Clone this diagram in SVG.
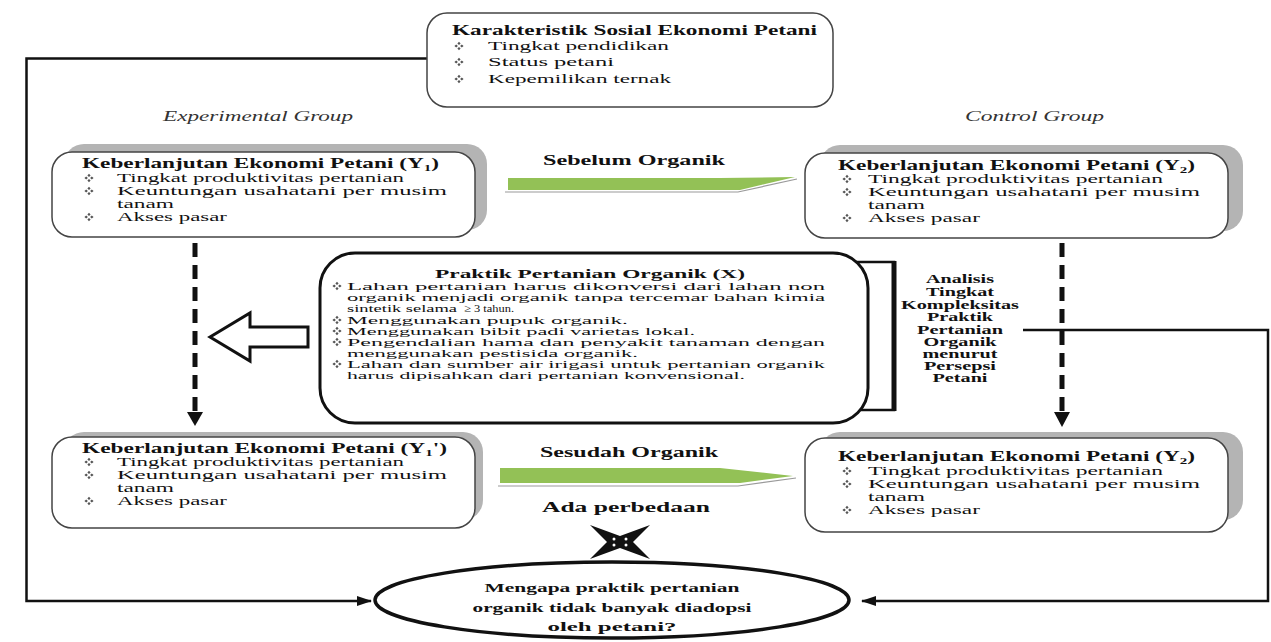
<svg xmlns="http://www.w3.org/2000/svg" width="1271" height="642" viewBox="0 0 1271 642">
<style>
.t{font-family:"Liberation Serif","Times New Roman",serif;fill:#111;font-size:12.5px}
.h{font-size:14px;font-weight:bold}
.b{font-weight:bold}
.c{font-size:11px}
.r{font-size:12.5px}
.i{font-style:italic;fill:#333;font-size:14px}
.m{text-anchor:middle}
.box{fill:#fff;stroke:#444;stroke-width:1.5}
.sh{fill:#b4b4b4}
.ln{fill:none;stroke:#111;stroke-width:2.5}
.dash{fill:none;stroke:#111;stroke-width:5;stroke-dasharray:14 8}
.grn{fill:#93c156}
.gsh{fill:none;stroke:#9a9a9a;stroke-width:1.2}
</style>
<defs>
<marker id="ah" markerUnits="userSpaceOnUse" markerWidth="16" markerHeight="12" refX="14" refY="6" orient="auto">
<path d="M0,1 L15,6 L0,11 Z" fill="#111"/>
</marker>
<symbol id="bul" overflow="visible">
<path d="M0,-4.2 L1.6,-2.6 L0,-1 L-1.6,-2.6 Z M0,4.2 L1.6,2.6 L0,1 L-1.6,2.6 Z M-4.6,0 L-2.8,-1.5 L-1.1,0 L-2.8,1.5 Z M4.6,0 L2.8,-1.5 L1.1,0 L2.8,1.5 Z" fill="#555"/>
</symbol>
</defs>
<rect width="1271" height="642" fill="#fff"/>

<g id="connectors">
<path class="ln" d="M427,58.5 H26.5 V601 H371" marker-end="url(#ah)"/>
<path class="ln" d="M1023,330 H1268 V601 H862" marker-end="url(#ah)"/>
<line class="dash" x1="195" y1="243" x2="195" y2="412"/>
<polygon points="187,412 203,412 195,426" fill="#111"/>
<line class="dash" x1="1062" y1="243" x2="1062" y2="412"/>
<polygon points="1054,412 1070,412 1062,427" fill="#111"/>
<polygon points="210,337 250,313 250,327 308,327 308,347 250,347 250,361" fill="#fff" stroke="#111" stroke-width="3"/>
<path d="M853,262 H894 V410 H853" fill="none" stroke="#111" stroke-width="2.5"/>
<line x1="894" y1="261" x2="894" y2="411" stroke="#111" stroke-width="5"/>
</g>

<g id="karakteristik">
<rect class="box" x="427" y="13" width="406" height="94" rx="20"/>
<text class="t h" x="452" y="35" textLength="365" lengthAdjust="spacingAndGlyphs">Karakteristik Sosial Ekonomi Petani</text>
<use href="#bul" x="459" y="46"/><text class="t" x="488" y="50" font-size="13.5" textLength="181" lengthAdjust="spacingAndGlyphs">Tingkat pendidikan</text>
<use href="#bul" x="459" y="62"/><text class="t" x="488" y="66" font-size="13.5" textLength="126" lengthAdjust="spacingAndGlyphs">Status petani</text>
<use href="#bul" x="459" y="79"/><text class="t" x="488" y="83" font-size="13.5" textLength="183" lengthAdjust="spacingAndGlyphs">Kepemilikan ternak</text>
</g>

<g id="experimental-label"><text class="t i" x="163" y="121" textLength="190" lengthAdjust="spacingAndGlyphs">Experimental Group</text></g>
<g id="control-label"><text class="t i" x="965" y="121" textLength="139" lengthAdjust="spacingAndGlyphs">Control Group</text></g>

<g id="y1-sebelum">
<rect class="sh" x="64" y="144" width="423" height="86" rx="20"/>
<rect class="box" x="52" y="152" width="423" height="85" rx="20"/>
<text class="t h" x="82" y="168" textLength="357" lengthAdjust="spacingAndGlyphs">Keberlanjutan Ekonomi Petani (Y<tspan font-size="9" dy="3">1</tspan><tspan dy="-3">)</tspan></text>
<use href="#bul" x="89" y="178"/><text class="t" x="117" y="182" textLength="287" lengthAdjust="spacingAndGlyphs">Tingkat produktivitas pertanian</text>
<use href="#bul" x="89" y="191"/><text class="t" x="117" y="195" textLength="330" lengthAdjust="spacingAndGlyphs">Keuntungan usahatani per musim</text>
<text class="t" x="117" y="208" textLength="57" lengthAdjust="spacingAndGlyphs">tanam</text>
<use href="#bul" x="89" y="217"/><text class="t" x="117" y="221" textLength="110" lengthAdjust="spacingAndGlyphs">Akses pasar</text>
</g>

<g id="arrow-sebelum">
<polyline class="gsh" points="505,192 738,192 797,179"/>
<polygon class="grn" points="508,178 720,178 795,177 740,190 508,190"/>
<text class="t h" x="543" y="165" textLength="182" lengthAdjust="spacingAndGlyphs">Sebelum Organik</text>
</g>

<g id="y2-sebelum">
<rect class="sh" x="820" y="145" width="423" height="86" rx="20"/>
<rect class="box" x="805" y="153" width="423" height="85" rx="20"/>
<text class="t h" x="838" y="170" textLength="357" lengthAdjust="spacingAndGlyphs">Keberlanjutan Ekonomi Petani (Y<tspan font-size="9" dy="3">2</tspan><tspan dy="-3">)</tspan></text>
<use href="#bul" x="847" y="179"/><text class="t" x="868" y="183" textLength="295" lengthAdjust="spacingAndGlyphs">Tingkat produktivitas pertanian</text>
<use href="#bul" x="847" y="192"/><text class="t" x="868" y="196" textLength="332" lengthAdjust="spacingAndGlyphs">Keuntungan usahatani per musim</text>
<text class="t" x="868" y="209" textLength="57" lengthAdjust="spacingAndGlyphs">tanam</text>
<use href="#bul" x="847" y="218"/><text class="t" x="868" y="222" textLength="112" lengthAdjust="spacingAndGlyphs">Akses pasar</text>
</g>

<g id="praktik">
<rect x="320" y="253" width="548" height="170" rx="35" fill="#fff" stroke="#111" stroke-width="3"/>
<text class="t b r" x="435" y="278" textLength="310" lengthAdjust="spacingAndGlyphs">Praktik Pertanian Organik (X)</text>
<use href="#bul" x="337" y="286"/><text class="t c" x="347" y="290" textLength="478" lengthAdjust="spacingAndGlyphs">Lahan pertanian harus dikonversi dari lahan non</text>
<text class="t c" x="347" y="301" textLength="478" lengthAdjust="spacingAndGlyphs">organik menjadi organik tanpa tercemar bahan kimia</text>
<text class="t c" x="347" y="312" textLength="110" lengthAdjust="spacingAndGlyphs">sintetik selama</text>
<text class="t c" x="464" y="312" textLength="50" lengthAdjust="spacingAndGlyphs">≥ 3 tahun.</text>
<use href="#bul" x="337" y="320"/><text class="t c" x="347" y="324" textLength="281" lengthAdjust="spacingAndGlyphs">Menggunakan pupuk organik.</text>
<use href="#bul" x="337" y="331"/><text class="t c" x="347" y="335" textLength="348" lengthAdjust="spacingAndGlyphs">Menggunakan bibit padi varietas lokal.</text>
<use href="#bul" x="337" y="342"/><text class="t c" x="347" y="346" textLength="478" lengthAdjust="spacingAndGlyphs">Pengendalian hama dan penyakit tanaman dengan</text>
<text class="t c" x="347" y="357" textLength="291" lengthAdjust="spacingAndGlyphs">menggunakan pestisida organik.</text>
<use href="#bul" x="337" y="364"/><text class="t c" x="347" y="368" textLength="478" lengthAdjust="spacingAndGlyphs">Lahan dan sumber air irigasi untuk pertanian organik</text>
<text class="t c" x="347" y="379" textLength="398" lengthAdjust="spacingAndGlyphs">harus dipisahkan dari pertanian konvensional.</text>
</g>

<g id="analisis">
<text class="t b r m" x="960" y="283" textLength="68" lengthAdjust="spacingAndGlyphs">Analisis</text>
<text class="t b r m" x="960" y="296" textLength="68" lengthAdjust="spacingAndGlyphs">Tingkat</text>
<text class="t b r m" x="960" y="309" textLength="118" lengthAdjust="spacingAndGlyphs">Kompleksitas</text>
<text class="t b r m" x="960" y="321" textLength="66" lengthAdjust="spacingAndGlyphs">Praktik</text>
<text class="t b r m" x="960" y="334" textLength="86" lengthAdjust="spacingAndGlyphs">Pertanian</text>
<text class="t b r m" x="960" y="346" textLength="73" lengthAdjust="spacingAndGlyphs">Organik</text>
<text class="t b r m" x="960" y="358" textLength="75" lengthAdjust="spacingAndGlyphs">menurut</text>
<text class="t b r m" x="960" y="370" textLength="72" lengthAdjust="spacingAndGlyphs">Persepsi</text>
<text class="t b r m" x="960" y="382" textLength="55" lengthAdjust="spacingAndGlyphs">Petani</text>
</g>

<g id="y1-sesudah">
<rect class="sh" x="64" y="432" width="419" height="88" rx="20"/>
<rect class="box" x="52" y="437" width="423" height="91" rx="20"/>
<text class="t h" x="82" y="453" textLength="365" lengthAdjust="spacingAndGlyphs">Keberlanjutan Ekonomi Petani (Y<tspan font-size="9" dy="3">1</tspan><tspan dy="-3">')</tspan></text>
<use href="#bul" x="89" y="462"/><text class="t" x="117" y="466" textLength="287" lengthAdjust="spacingAndGlyphs">Tingkat produktivitas pertanian</text>
<use href="#bul" x="89" y="475"/><text class="t" x="117" y="479" textLength="330" lengthAdjust="spacingAndGlyphs">Keuntungan usahatani per musim</text>
<text class="t" x="117" y="492" textLength="57" lengthAdjust="spacingAndGlyphs">tanam</text>
<use href="#bul" x="89" y="501"/><text class="t" x="117" y="505" textLength="110" lengthAdjust="spacingAndGlyphs">Akses pasar</text>
</g>

<g id="arrow-sesudah">
<polyline class="gsh" points="498,486 738,486 796,478"/>
<polygon class="grn" points="500,468 720,468 793,476 740,483 500,483"/>
<text class="t h" x="540" y="457" textLength="178" lengthAdjust="spacingAndGlyphs">Sesudah Organik</text>
<text class="t h" x="542" y="512" textLength="168" lengthAdjust="spacingAndGlyphs">Ada perbedaan</text>
</g>

<g id="y2-sesudah">
<rect class="sh" x="820" y="432" width="423" height="88" rx="20"/>
<rect class="box" x="805" y="438" width="423" height="94" rx="20"/>
<text class="t h" x="838" y="461" textLength="357" lengthAdjust="spacingAndGlyphs">Keberlanjutan Ekonomi Petani (Y<tspan font-size="9" dy="3">2</tspan><tspan dy="-3">)</tspan></text>
<use href="#bul" x="847" y="471"/><text class="t" x="868" y="475" textLength="295" lengthAdjust="spacingAndGlyphs">Tingkat produktivitas pertanian</text>
<use href="#bul" x="847" y="484"/><text class="t" x="868" y="488" textLength="332" lengthAdjust="spacingAndGlyphs">Keuntungan usahatani per musim</text>
<text class="t" x="868" y="501" textLength="57" lengthAdjust="spacingAndGlyphs">tanam</text>
<use href="#bul" x="847" y="510"/><text class="t" x="868" y="514" textLength="112" lengthAdjust="spacingAndGlyphs">Akses pasar</text>
</g>

<g id="cross">
<polygon points="590,525 620,536 650,525 633,542 650,559 620,548 590,559 607,542" fill="#111"/>
<circle cx="614" cy="539" r="1.5" fill="#fff"/><circle cx="626" cy="539" r="1.5" fill="#fff"/>
<circle cx="614" cy="545" r="1.5" fill="#fff"/><circle cx="626" cy="545" r="1.5" fill="#fff"/>
</g>

<g id="pertanyaan">
<ellipse cx="612" cy="600" rx="237" ry="38" fill="#fff" stroke="#111" stroke-width="3.5"/>
<text class="t b m" x="612" y="592" font-size="14" textLength="255" lengthAdjust="spacingAndGlyphs">Mengapa praktik pertanian</text>
<text class="t b m" x="612" y="612" font-size="14" textLength="279" lengthAdjust="spacingAndGlyphs">organik tidak banyak diadopsi</text>
<text class="t b m" x="612" y="631" font-size="14" textLength="129" lengthAdjust="spacingAndGlyphs">oleh petani?</text>
</g>
</svg>
